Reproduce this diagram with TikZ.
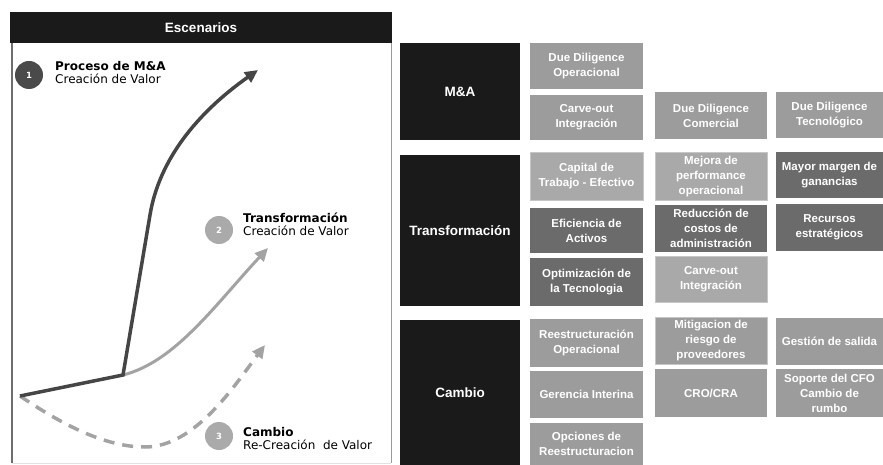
\documentclass[tikz,border=0pt]{standalone}
\usepackage{fontspec}
\setmainfont{Liberation Sans}
\newfontfamily\verd{DejaVu Sans}
\usetikzlibrary{arrows.meta}

\definecolor{catblack}{HTML}{1A1A1A}
\definecolor{boxmid}{HTML}{9C9C9C}
\definecolor{boxlight}{HTML}{A9A9A9}
\definecolor{boxedge}{HTML}{C6C6C6}
\definecolor{boxdark}{HTML}{6B6B6B}
\definecolor{numdark}{HTML}{4A4A4A}
\definecolor{numlight}{HTML}{AAAAAA}
\definecolor{curvedark}{HTML}{454545}
\definecolor{curvelight}{HTML}{A3A3A3}
\definecolor{framegray}{HTML}{6E6E6E}

\begin{document}
\begin{tikzpicture}[x=1pt,y=-1pt,
  cat/.style={fill=catblack, text=white, font=\fontsize{13.5}{16}\selectfont\bfseries, minimum width=120pt, inner sep=0pt},
  item/.style={text=white, font=\fontsize{11.5}{15}\selectfont\bfseries, align=center, inner sep=0pt},
  mid/.style={item, fill=boxmid},
  light/.style={item, fill=boxlight, draw=boxedge, line width=1pt},
  dark/.style={item, fill=boxdark},
  colA/.style={minimum width=113pt},
  colB/.style={minimum width=112pt},
  colC/.style={minimum width=107pt},
  num/.style={circle, minimum size=28pt, inner sep=0pt, text=white, font=\verd\bfseries\fontsize{8.5}{8.5}\selectfont},
  lbl/.style={anchor=north west, align=left, inner sep=0pt, font=\verd\fontsize{12}{13}\selectfont},
  trend/.style={line width=3.5pt, -{Triangle[length=13pt,width=12pt]}}
]
\useasboundingbox (0,0) rectangle (883,465);

% left panel
\draw[framegray, line width=1.5pt] (12,43) -- (12,463);
\draw[framegray!70, line width=1pt] (391,43) -- (391,463);
\draw[framegray!20, line width=1pt] (12,463) -- (391,463);
\node[fill=catblack, text=white, minimum width=382pt, minimum height=31pt, inner sep=0pt,
      font=\fontsize{13.5}{15}\selectfont\bfseries] (hdr) at (201,27.5) {Escenarios};

\coordinate (start) at (20,396);
\coordinate (knee) at (123,375);
\coordinate (bend) at (150,215);
\coordinate (tipA) at (258,70);
\coordinate (tipB) at (268,248);
\coordinate (low) at (145,447);
\coordinate (tipC) at (265,345);

\draw[trend, curvelight, line width=3pt] (knee) .. controls (175,362) and (215,305) .. (tipB);
\draw[trend, curvelight, dash pattern=on 11pt off 8pt]
  (start) .. controls (70,430) and (110,447) .. (low) .. controls (195,447) and (235,385) .. (tipC);
\draw[trend, curvedark] (start) -- (knee) -- (bend) .. controls (159,160) and (197,113) .. (tipA);

\node[num, fill=numdark] (n1) at (29,75) {1};
\node[num, fill=numlight] (n2) at (219,230) {2};
\node[num, fill=numlight] (n3) at (219,436) {3};
\node[lbl] (l1) at (55,61) {\textbf{Proceso de M\&A}\\Creación de Valor};
\node[lbl] (l2) at (243,213) {\textbf{Transformación}\\Creación de Valor};
\node[lbl] (l3) at (243,427) {\textbf{Cambio}\\Re-Creación~ de Valor};

% M&A
\node[cat, minimum height=97pt] (mna) at (460,91.5) {M\&A};
\node[mid, colA, minimum height=46pt] (ddop) at (586.5,66) {Due Diligence\\Operacional};
\node[mid, colA, minimum height=45pt] (carveA) at (586.5,117.5) {Carve-out\\Integración};
\node[mid, colB, minimum height=47pt] (ddcom) at (711,116) {Due Diligence\\Comercial};
\node[mid, colC, minimum height=46pt] (ddtec) at (829.5,115) {Due Diligence\\Tecnológico};

% Transformacion
\node[cat, minimum height=151pt] (trf) at (460,230.5) {Transformación};
\node[light, colA, minimum height=48pt] (capital) at (586.5,176.5) {Capital de\\Trabajo - Efectivo};
\node[light, colB, minimum height=48pt] (mejora) at (711,176.5) {Mejora de\\performance\\operacional};
\node[dark, colC, minimum height=46pt] (margen) at (829.5,175) {Mayor margen de\\ganancias};
\node[dark, colA, minimum height=45pt] (activos) at (586.5,230.5) {Eficiencia de\\Activos};
\node[dark, colB, minimum height=47pt] (costos) at (711,228.5) {Reducción de\\costos de\\administración};
\node[dark, colC, minimum height=47pt] (recursos) at (829.5,227.5) {Recursos\\estratégicos};
\node[dark, colA, minimum height=48pt] (tecno) at (586.5,282) {Optimización de\\la Tecnologia};
\node[light, colB, minimum height=46pt] (carveB) at (711,279.5) {Carve-out\\Integración};

% Cambio
\node[cat, minimum height=145pt] (cmb) at (460,392.5) {Cambio};
\node[mid, colA, minimum height=48pt] (reop) at (586.5,343) {Reestructuración\\Operacional};
\node[mid, colB, minimum height=47pt, draw=boxedge, line width=1pt] (riesgo) at (711,341) {Mitigacion de\\riesgo de\\proveedores};
\node[mid, colC, minimum height=47pt] (salida) at (829.5,341.5) {Gestión de salida};
\node[mid, colA, minimum height=47pt] (gerencia) at (586.5,394.5) {Gerencia Interina};
\node[mid, colB, minimum height=48pt] (cro) at (711,393) {CRO/CRA};
\node[mid, colC, minimum height=48pt] (cfo) at (829.5,393) {Soporte del CFO\\Cambio de\\rumbo};
\node[mid, colA, minimum height=42pt] (opciones) at (586.5,444) {Opciones de\\Reestructuracion};
\end{tikzpicture}
\end{document}
